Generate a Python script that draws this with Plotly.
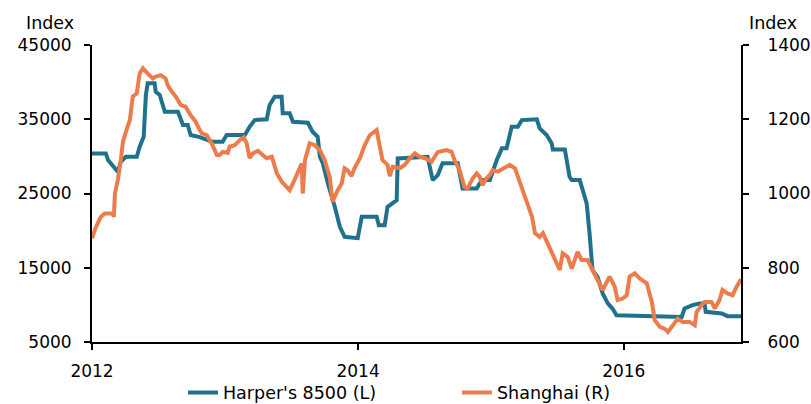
import plotly.graph_objects as go

# Harper's 8500 index (left axis)
harper_dates = [
    "2012-01-01", "2012-02-08", "2012-02-14", "2012-02-27", "2012-03-12", "2012-03-20",
    "2012-04-03", "2012-05-03", "2012-05-11", "2012-05-22", "2012-05-28", "2012-06-02",
    "2012-06-21", "2012-06-24", "2012-07-05", "2012-07-19", "2012-08-24", "2012-09-07",
    "2012-09-20", "2012-09-28", "2012-10-23", "2012-11-14", "2012-11-25", "2012-12-25",
    "2013-01-05", "2013-02-24", "2013-03-09", "2013-03-23", "2013-04-25", "2013-05-03",
    "2013-05-17", "2013-06-05", "2013-06-08", "2013-06-27", "2013-07-06", "2013-08-16",
    "2013-08-29", "2013-09-12", "2013-09-18", "2013-09-26", "2013-10-10", "2013-10-29",
    "2013-11-12", "2013-11-25", "2013-12-31", "2014-01-11", "2014-02-21", "2014-02-27",
    "2014-03-15", "2014-03-23", "2014-04-06", "2014-04-17", "2014-04-20", "2014-07-11",
    "2014-07-25", "2014-08-08", "2014-08-21", "2014-10-02", "2014-10-15", "2014-11-23",
    "2014-12-07", "2014-12-29", "2015-01-17", "2015-01-31", "2015-02-13", "2015-02-27",
    "2015-03-16", "2015-03-27", "2015-05-07", "2015-05-15", "2015-06-03", "2015-06-17",
    "2015-06-20", "2015-07-23", "2015-08-05", "2015-08-11", "2015-09-02", "2015-09-10",
    "2015-09-21", "2015-09-29", "2015-10-07", "2015-10-21", "2015-11-04", "2015-11-18",
    "2015-12-01", "2015-12-12", "2016-06-08", "2016-06-16", "2016-07-08", "2016-07-27",
    "2016-08-10", "2016-08-13", "2016-09-26", "2016-10-12", "2016-11-18",
]
harper_values = [
    30400, 30400, 29500, 28830, 27925, 29270,
    29950, 29950, 31300, 32640, 38260, 39840,
    39840, 38700, 38260, 36010, 36010, 34220,
    34220, 32870, 32600, 32200, 31970, 31970,
    32870, 32870, 33990, 34890, 34990, 36910,
    38030, 38030, 35800, 35800, 34660, 34530,
    33320, 32640, 29950, 29100, 26360, 23210,
    20510, 19160, 18990, 21860, 21860, 20740,
    20740, 23210, 23670, 24110, 29730, 29950,
    26810, 27480, 29060, 29060, 25690, 25690,
    26810, 26810, 29500, 31080, 31080, 33990,
    33990, 34890, 34990, 33770, 32870, 31750,
    30940, 30940, 27250, 26810, 26810, 25460,
    23670, 19620, 14680, 13770, 11540, 10190,
    9510, 8610, 8380, 9510, 9960, 10190,
    10190, 9060, 8840, 8480, 8480,
]

# Shanghai index (right axis)
shanghai_dates = [
    "2012-01-01", "2012-01-12", "2012-01-25", "2012-02-05", "2012-02-27", "2012-03-01",
    "2012-03-04", "2012-03-12", "2012-03-20", "2012-03-26", "2012-04-03", "2012-04-14",
    "2012-04-22", "2012-05-03", "2012-05-11", "2012-05-20", "2012-05-28", "2012-06-08",
    "2012-06-16", "2012-06-24", "2012-07-08", "2012-07-21", "2012-07-27", "2012-08-04",
    "2012-08-18", "2012-09-01", "2012-09-14", "2012-09-28", "2012-10-12", "2012-10-23",
    "2012-10-29", "2012-11-11", "2012-11-25", "2012-12-09", "2012-12-17", "2012-12-25",
    "2013-01-08", "2013-01-13", "2013-01-27", "2013-02-10", "2013-02-21", "2013-03-01",
    "2013-03-09", "2013-03-18", "2013-04-01", "2013-04-14", "2013-04-25", "2013-05-09",
    "2013-05-23", "2013-06-05", "2013-06-14", "2013-06-27", "2013-07-06", "2013-07-19",
    "2013-07-30", "2013-08-02", "2013-08-08", "2013-08-21", "2013-09-04", "2013-09-18",
    "2013-10-01", "2013-10-15", "2013-10-23", "2013-11-06", "2013-11-17", "2013-11-25",
    "2013-12-03", "2013-12-14", "2013-12-22", "2014-01-06", "2014-01-19", "2014-02-02",
    "2014-02-21", "2014-03-01", "2014-03-09", "2014-03-23", "2014-03-29", "2014-04-06",
    "2014-04-25", "2014-05-09", "2014-05-23", "2014-06-06", "2014-06-19", "2014-07-03",
    "2014-07-22", "2014-08-08", "2014-09-01", "2014-09-15", "2014-09-23", "2014-10-07",
    "2014-10-20", "2014-10-29", "2014-11-12", "2014-11-23", "2014-12-01", "2014-12-09",
    "2014-12-20", "2014-12-29", "2015-01-06", "2015-01-20", "2015-02-08", "2015-02-22",
    "2015-03-08", "2015-03-27", "2015-04-10", "2015-04-24", "2015-05-02", "2015-05-15",
    "2015-05-24", "2015-06-12", "2015-06-25", "2015-07-09", "2015-07-17", "2015-07-31",
    "2015-08-11", "2015-08-27", "2015-09-07", "2015-09-23", "2015-10-07", "2015-10-21",
    "2015-11-04", "2015-11-23", "2015-12-07", "2015-12-15", "2015-12-29", "2016-01-09",
    "2016-01-17", "2016-01-31", "2016-02-14", "2016-03-04", "2016-03-18", "2016-03-26",
    "2016-04-09", "2016-04-22", "2016-05-01", "2016-05-15", "2016-05-28", "2016-06-11",
    "2016-06-30", "2016-07-14", "2016-07-19", "2016-08-02", "2016-08-10", "2016-08-29",
    "2016-09-07", "2016-09-20", "2016-09-28", "2016-10-12", "2016-10-26", "2016-11-06",
    "2016-11-18",
]
shanghai_values = [
    879, 910, 937, 946, 946, 937,
    1000, 1036, 1090, 1139, 1166, 1198,
    1261, 1270, 1324, 1337, 1328, 1319,
    1310, 1315, 1319, 1310, 1292, 1279,
    1261, 1238, 1234, 1211, 1193, 1171,
    1162, 1157, 1135, 1104, 1104, 1112,
    1110, 1126, 1130, 1144, 1151, 1135,
    1095, 1108, 1115, 1104, 1095, 1099,
    1054, 1032, 1023, 1009, 1027, 1059,
    1081, 1000, 1090, 1135, 1130, 1117,
    1090, 1045, 978, 1009, 1027, 1068,
    1063, 1047, 1068, 1095, 1130, 1157,
    1171, 1130, 1090, 1077, 1047, 1072,
    1068, 1077, 1095, 1108, 1099, 1095,
    1086, 1112, 1117, 1112, 1090, 1063,
    1018, 1014, 1041, 1054, 1045, 1023,
    1041, 1050, 1063, 1059, 1068, 1077,
    1068, 1014, 978, 937, 893, 883,
    893, 852, 821, 794, 839, 829,
    798, 843, 821, 821, 794, 767,
    740, 776, 749, 713, 717, 726,
    776, 785, 771, 758, 708, 659,
    641, 636, 627, 645, 663, 654,
    654, 645, 681, 699, 708, 708,
    690, 713, 740, 731, 726, 749,
    769,
]

left_ticks = [5000, 15000, 25000, 35000, 45000]
right_ticks = [600, 800, 1000, 1200, 1400]
x_tick_vals = ["2012-01-01", "2014-01-01", "2016-01-01"]
x_tick_text = ["2012", "2014", "2016"]

TEAL = "#1F718E"
ORANGE = "#EC7C4B"
FONT = "DejaVu Sans"
FS = 17.5
TICK_FS = 17

fig = go.Figure()
fig.add_trace(go.Scatter(x=harper_dates, y=harper_values, mode="lines",
                         name="Harper's 8500 (L)",
                         line=dict(color=TEAL, width=4), yaxis="y"))
fig.add_trace(go.Scatter(x=shanghai_dates, y=shanghai_values, mode="lines",
                         name="Shanghai (R)",
                         line=dict(color=ORANGE, width=4), yaxis="y2"))

axis_common = dict(showgrid=False, zeroline=False, showline=True, linecolor="black",
                   linewidth=2, ticks="outside", ticklen=6, tickwidth=2, tickcolor="black",
                   automargin=False,
                   tickfont=dict(family=FONT, size=TICK_FS, color="black"))

fig.update_layout(
    width=811, height=404,
    margin=dict(l=92, r=70, t=45, b=62),
    paper_bgcolor="white", plot_bgcolor="white",
    font=dict(family=FONT, size=FS, color="black"),
    xaxis=dict(range=["2012-01-01", "2016-11-18"], tickvals=x_tick_vals, ticktext=x_tick_text,
               ticklabelstandoff=7, **axis_common),
    yaxis=dict(range=[5000, 45000], tickvals=left_ticks, tickformat="d",
               ticklabelstandoff=9, **axis_common),
    yaxis2=dict(range=[600, 1400], tickvals=right_ticks, tickformat="d", overlaying="y",
                side="right", ticklabelstandoff=15, **axis_common),
    showlegend=True,
    legend=dict(orientation="h", xref="container", yref="container",
                x=0.2256, y=0.028, xanchor="left", yanchor="middle",
                font=dict(family=FONT, size=FS, color="black"), bgcolor="rgba(0,0,0,0)",
                entrywidth=229, entrywidthmode="pixels"),
    annotations=[
        dict(text="Index", xref="paper", yref="paper", x=-0.065, y=1.074, showarrow=False,
             xanchor="center", yanchor="middle", font=dict(family=FONT, size=FS, color="black")),
        dict(text="Index", xref="paper", yref="paper", x=1.05, y=1.074, showarrow=False,
             xanchor="center", yanchor="middle", font=dict(family=FONT, size=FS, color="black")),
    ],
)

fig.write_html("out.html", config={"displayModeBar": False},
               post_script="document.body.style.margin='0';document.body.style.overflow='hidden';")
